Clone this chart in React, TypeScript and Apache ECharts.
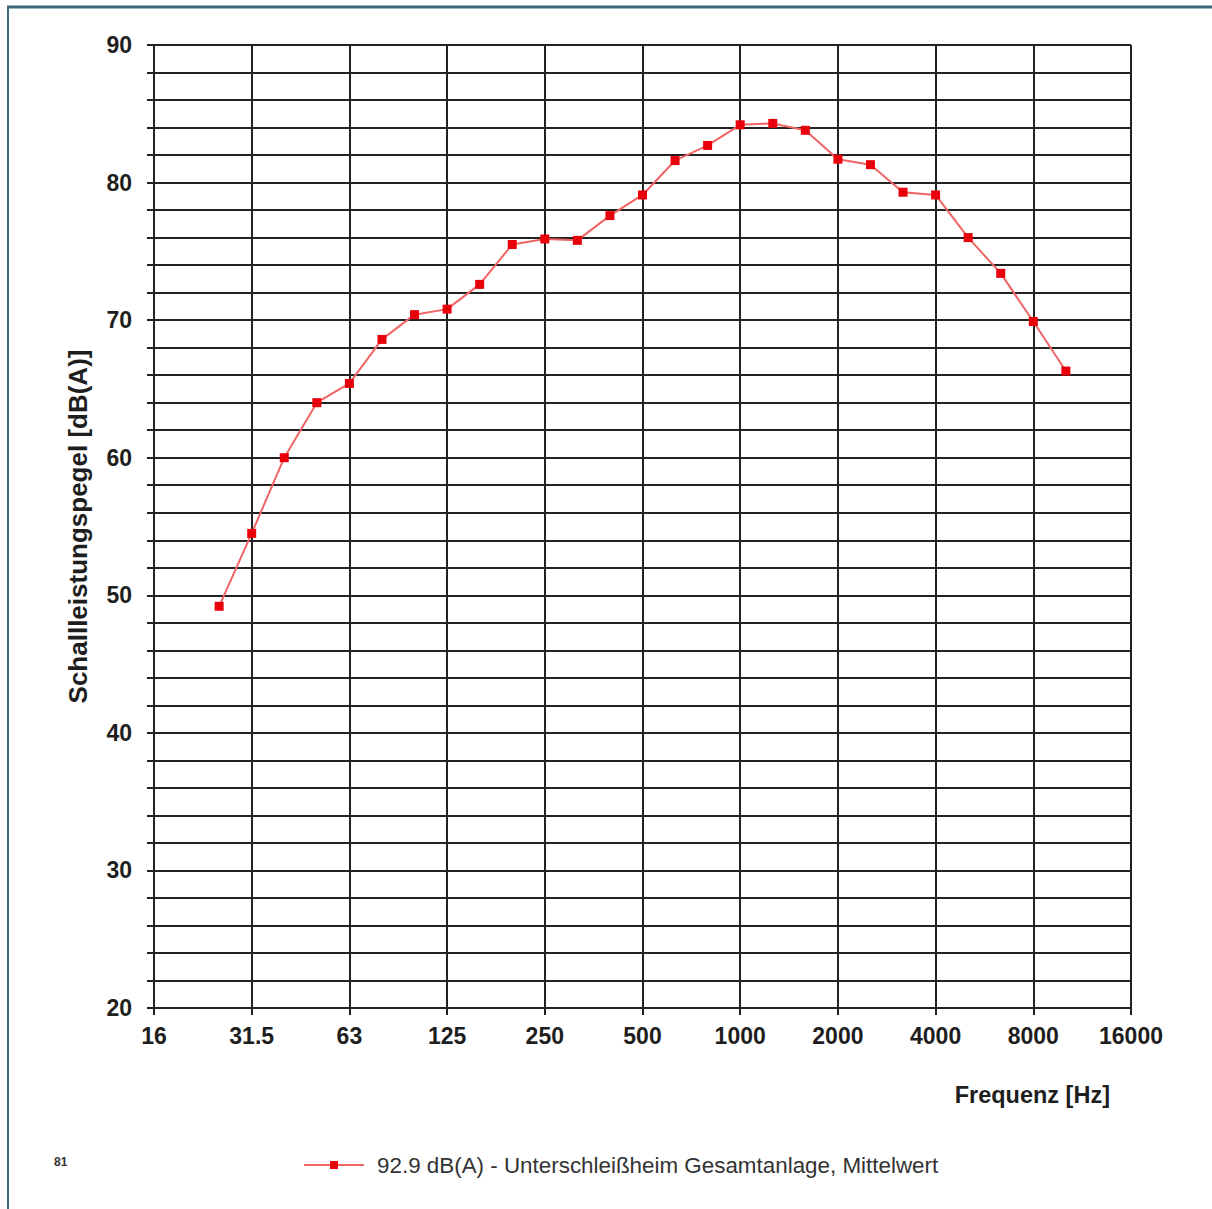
import React, { useEffect, useRef } from "react";
import * as echarts from "echarts";

// third-octave band centre frequencies (Hz)
const bands = ["25", "31.5", "40", "50", "63", "80", "100", "125", "160", "200", "250", "315", "400", "500", "630", "800", "1000", "1250", "1600", "2000", "2500", "3150", "4000", "5000", "6300", "8000", "10000"];
// position of each band in third-octave steps from 16 Hz
const bandSteps = [2, 3, 4, 5, 6, 7, 8, 9, 10, 11, 12, 13, 14, 15, 16, 17, 18, 19, 20, 21, 22, 23, 24, 25, 26, 27, 28];
const levels = [49.2, 54.5, 60.0, 64.0, 65.4, 68.6, 70.4, 70.8, 72.6, 75.5, 75.9, 75.8, 77.6, 79.1, 81.6, 82.7, 84.2, 84.3, 83.8, 81.7, 81.3, 79.3, 79.1, 76.0, 73.4, 69.9, 66.3];
const octaveLabels = ["16", "31.5", "63", "125", "250", "500", "1000", "2000", "4000", "8000", "16000"];
const seriesName = "92.9 dB(A) - Unterschleißheim Gesamtanlage, Mittelwert";

export default function App() {
  const ref = useRef<HTMLDivElement>(null);
  useEffect(() => {
    if (!ref.current) return;
    const chart = echarts.init(ref.current, undefined, { renderer: "svg" });
    const font = "Liberation Sans, Arial, sans-serif";
    chart.setOption({
      animation: false,
      backgroundColor: "#ffffff",
      grid: { left: 154, top: 45, width: 977, height: 963, containLabel: false },
      xAxis: {
        type: "value",
        min: 0,
        max: 30,
        interval: 3,
        axisLine: { show: true, lineStyle: { color: "#222", width: 2 } },
        axisTick: { show: true, length: 7, lineStyle: { color: "#222", width: 2 } },
        splitLine: { show: true, lineStyle: { color: "#222", width: 2 } },
        axisLabel: {
          margin: 16,
          color: "#1e1e1e",
          fontFamily: font,
          fontWeight: "bold",
          fontSize: 23,
          formatter: (v: number) => octaveLabels[Math.round(v / 3)] ?? "",
        },
      },
      yAxis: {
        type: "value",
        min: 20,
        max: 90,
        interval: 2,
        name: "Schallleistungspegel [dB(A)]",
        nameLocation: "middle",
        nameGap: 63,
        nameRotate: 90,
        nameTextStyle: { color: "#1e1e1e", fontFamily: font, fontWeight: "bold", fontSize: 26 },
        axisLine: { show: true, lineStyle: { color: "#222", width: 2 } },
        axisTick: { show: true, length: 7, lineStyle: { color: "#222", width: 2 } },
        splitLine: { show: true, lineStyle: { color: "#222", width: 2 } },
        axisLabel: {
          margin: 22,
          color: "#1e1e1e",
          fontFamily: font,
          fontWeight: "bold",
          fontSize: 23,
          formatter: (v: number) => (v % 10 === 0 ? String(v) : ""),
        },
      },
      legend: {
        show: true,
        left: 303,
        top: 1154,
        itemWidth: 60,
        itemHeight: 10,
        itemGap: 10,
        padding: 0,
        textStyle: { color: "#333", fontFamily: font, fontSize: 22.4, padding: [0, 0, 0, 8] },
        data: [{ name: seriesName }],
      },
      series: [
        {
          name: seriesName,
          type: "line",
          data: bandSteps.map((s, i) => [s, levels[i], bands[i]]),
          symbol: "rect",
          symbolSize: 9,
          showSymbol: true,
          lineStyle: { color: "#f06464", width: 2 },
          itemStyle: { color: "#e8000a" },
        },
      ],
      graphic: [
        { type: "line", shape: { x1: 7, y1: 7, x2: 1212, y2: 7 }, style: { stroke: "#3e6a80", lineWidth: 3 } },
        { type: "line", shape: { x1: 8, y1: 6, x2: 8, y2: 1209 }, style: { stroke: "#3e6a80", lineWidth: 2 } },
        {
          type: "text",
          x: 1110,
          y: 1095,
          style: { text: "Frequenz [Hz]", align: "right", verticalAlign: "middle", fill: "#1e1e1e", font: "bold 23.5px Liberation Sans, Arial, sans-serif" },
        },
        {
          type: "text",
          x: 54,
          y: 1162,
          style: { text: "81", align: "left", verticalAlign: "middle", fill: "#333", font: "bold 12px Liberation Sans, Arial, sans-serif" },
        },
      ],
    });
    return () => chart.dispose();
  }, []);
  return <div ref={ref} style={{ position: "fixed", left: 0, top: 0, width: 1212, height: 1209 }} />;
}
